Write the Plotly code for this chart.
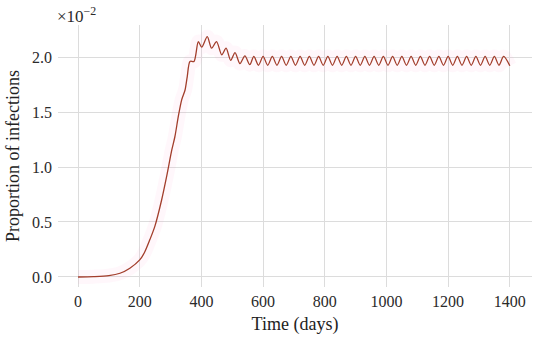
import plotly.graph_objects as go

# Time (days) and proportion of infections (in units of 1e-2)
t_rise = [0, 50, 100, 136, 168, 200, 215, 233, 249, 271, 287, 304, 314, 325, 336,
          347, 354, 363, 376, 390, 401, 419, 433, 449, 466, 480, 495, 509, 525, 541, 557]
y_rise = [0.0, 0.003, 0.012, 0.034, 0.08, 0.155, 0.22, 0.34, 0.46, 0.70, 0.91, 1.155,
          1.275, 1.457, 1.61, 1.70, 1.82, 1.96, 1.96, 2.14, 2.09, 2.185, 2.08, 2.14,
          2.02, 2.08, 1.97, 2.04, 1.94, 2.01, 1.93]

t_osc = [570, 585, 600, 615, 630, 645, 660, 675, 690, 705, 720, 735, 750, 765, 780,
         795, 810, 825, 840, 855, 870, 885, 900, 915, 930, 945, 960, 975, 990, 1005,
         1020, 1035, 1050, 1065, 1080, 1095, 1110, 1125, 1140, 1155, 1170, 1185, 1200,
         1215, 1230, 1245, 1260, 1275, 1290, 1305, 1320, 1335, 1350, 1365, 1380, 1400]
y_osc = [2.005, 1.925, 2.005, 1.925, 2.005, 1.925, 2.005, 1.925, 2.005, 1.925, 2.005,
         1.925, 2.005, 1.925, 2.005, 1.925, 2.005, 1.925, 2.005, 1.925, 2.005, 1.925,
         2.005, 1.925, 2.005, 1.925, 2.005, 1.925, 2.005, 1.925, 2.005, 1.925, 2.005,
         1.925, 2.005, 1.925, 2.005, 1.925, 2.005, 1.925, 2.005, 1.925, 2.005, 1.925,
         2.005, 1.925, 2.005, 1.925, 2.005, 1.925, 2.005, 1.925, 2.005, 1.925, 2.005,
         1.92]

x_ticks = [0, 200, 400, 600, 800, 1000, 1200, 1400]
y_ticks = [0.0, 0.5, 1.0, 1.5, 2.0]
y_tick_labels = ["0.0", "0.5", "1.0", "1.5", "2.0"]

t_all = t_rise + t_osc
y_all = y_rise + y_osc

FONT = "Liberation Serif"

fig = go.Figure()
# faint pink halo under the line
fig.add_trace(go.Scatter(x=t_all, y=y_all, mode="lines",
                         line=dict(color="rgba(255,120,180,0.06)", width=14,
                                   shape="spline", smoothing=0.8),
                         hoverinfo="skip", showlegend=False))
fig.add_trace(go.Scatter(x=t_all, y=y_all, mode="lines",
                         line=dict(color="#a23d2b", width=1.3,
                                   shape="spline", smoothing=0.8),
                         showlegend=False))

fig.update_layout(
    width=550, height=337,
    margin=dict(l=58, r=18, t=25, b=50, autoexpand=False),
    paper_bgcolor="white", plot_bgcolor="white",
    font=dict(family=FONT, size=16, color="#222222"),
    xaxis=dict(range=[-65, 1472], tickvals=x_ticks, showgrid=True, automargin=False,
               gridcolor="#dcdcdc", gridwidth=1, zeroline=False, showline=False,
               ticks="", ticklabelstandoff=3,
               tickfont=dict(family=FONT, size=16, color="#2a2a2a"),
               title=dict(text="Time (days)", font=dict(family=FONT, size=18, color="#222222"),
                          standoff=8)),
    yaxis=dict(range=[-0.091, 2.291], tickvals=y_ticks, ticktext=y_tick_labels,
               showgrid=True, gridcolor="#dcdcdc", gridwidth=1, zeroline=False,
               showline=False, ticks="", ticklabelstandoff=5, automargin=False,
               tickfont=dict(family=FONT, size=16, color="#2a2a2a"),
               title=dict(text="Proportion of infections",
                          font=dict(family=FONT, size=18, color="#222222"), standoff=7)),
    annotations=[dict(text="×10<sup>−2</sup>", xref="paper", yref="paper",
                      x=0, y=1.0, xanchor="left", yanchor="bottom", showarrow=False,
                      font=dict(family=FONT, size=17, color="#2a2a2a"), xshift=-3, yshift=-3)],
)

fig.write_html("out.html", config={"displayModeBar": False},
               post_script="document.body.style.margin='0';document.body.style.padding='0';")
